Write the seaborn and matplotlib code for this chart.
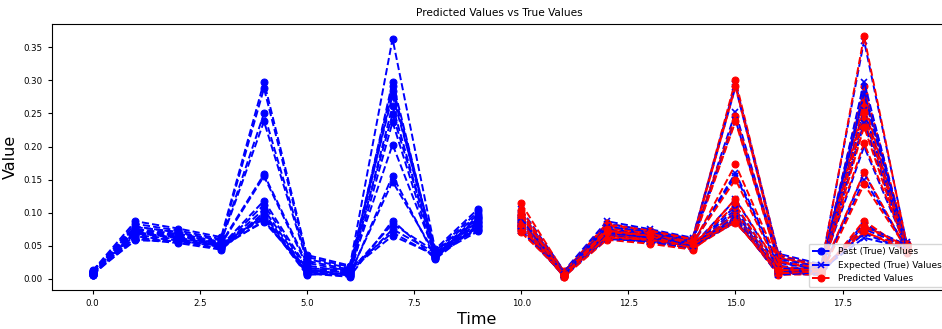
import numpy as np
import pandas as pd
import matplotlib
matplotlib.use("Agg")
import matplotlib.pyplot as plt
import seaborn as sb

# time axis
past_steps = list(range(0, 10))
future_steps = list(range(10, 20))

# rows = time step, columns = sample
past_values = [
    [0.012, 0.010, 0.008, 0.011, 0.006, 0.005, 0.009, 0.013, 0.007, 0.010, 0.006, 0.008, 0.012, 0.005, 0.009, 0.011],
    [0.087, 0.083, 0.079, 0.075, 0.072, 0.070, 0.068, 0.066, 0.064, 0.062, 0.060, 0.058, 0.071, 0.069, 0.074, 0.078],
    [0.076, 0.073, 0.070, 0.068, 0.066, 0.064, 0.062, 0.060, 0.058, 0.056, 0.054, 0.057, 0.061, 0.063, 0.067, 0.071],
    [0.063, 0.060, 0.058, 0.056, 0.054, 0.052, 0.050, 0.049, 0.048, 0.046, 0.044, 0.051, 0.053, 0.055, 0.047, 0.050],
    [0.298, 0.288, 0.250, 0.238, 0.158, 0.155, 0.118, 0.112, 0.105, 0.100, 0.097, 0.095, 0.092, 0.090, 0.088, 0.086],
    [0.036, 0.033, 0.030, 0.027, 0.024, 0.020, 0.017, 0.014, 0.011, 0.009, 0.008, 0.007, 0.006, 0.010, 0.012, 0.015],
    [0.020, 0.018, 0.016, 0.014, 0.012, 0.010, 0.008, 0.006, 0.005, 0.004, 0.003, 0.007, 0.009, 0.011, 0.013, 0.015],
    [0.277, 0.363, 0.291, 0.249, 0.203, 0.298, 0.284, 0.261, 0.156, 0.237, 0.088, 0.147, 0.075, 0.083, 0.065, 0.070],
    [0.045, 0.042, 0.040, 0.038, 0.036, 0.035, 0.034, 0.033, 0.032, 0.031, 0.030, 0.037, 0.039, 0.041, 0.036, 0.034],
    [0.106, 0.102, 0.098, 0.095, 0.092, 0.090, 0.088, 0.086, 0.084, 0.082, 0.080, 0.078, 0.076, 0.074, 0.072, 0.093],
]

expected_values = [
    [0.105, 0.100, 0.097, 0.094, 0.091, 0.089, 0.087, 0.085, 0.083, 0.081, 0.079, 0.077, 0.075, 0.073, 0.072, 0.092],
    [0.012, 0.010, 0.008, 0.011, 0.006, 0.004, 0.009, 0.010, 0.007, 0.005, 0.003, 0.008, 0.011, 0.005, 0.009, 0.006],
    [0.087, 0.083, 0.079, 0.076, 0.073, 0.070, 0.068, 0.066, 0.064, 0.062, 0.061, 0.060, 0.072, 0.069, 0.075, 0.078],
    [0.075, 0.073, 0.070, 0.068, 0.066, 0.064, 0.062, 0.060, 0.058, 0.056, 0.055, 0.057, 0.061, 0.063, 0.067, 0.071],
    [0.062, 0.060, 0.058, 0.056, 0.054, 0.052, 0.050, 0.049, 0.048, 0.046, 0.045, 0.051, 0.053, 0.055, 0.047, 0.050],
    [0.295, 0.290, 0.252, 0.240, 0.160, 0.156, 0.120, 0.110, 0.105, 0.100, 0.095, 0.092, 0.090, 0.088, 0.087, 0.085],
    [0.038, 0.034, 0.030, 0.027, 0.024, 0.020, 0.017, 0.014, 0.011, 0.009, 0.008, 0.007, 0.006, 0.010, 0.012, 0.015],
    [0.022, 0.020, 0.018, 0.016, 0.014, 0.012, 0.010, 0.009, 0.008, 0.007, 0.006, 0.008, 0.010, 0.012, 0.014, 0.016],
    [0.275, 0.360, 0.285, 0.245, 0.200, 0.298, 0.280, 0.255, 0.160, 0.235, 0.085, 0.150, 0.075, 0.080, 0.062, 0.068],
    [0.055, 0.052, 0.050, 0.048, 0.046, 0.045, 0.044, 0.043, 0.042, 0.041, 0.040, 0.047, 0.049, 0.051, 0.046, 0.044],
]

predicted_values = [
    [0.114, 0.104, 0.099, 0.092, 0.095, 0.086, 0.090, 0.082, 0.085, 0.078, 0.082, 0.074, 0.078, 0.076, 0.070, 0.096],
    [0.010, 0.008, 0.006, 0.012, 0.004, 0.002, 0.007, 0.011, 0.005, 0.004, 0.003, 0.006, 0.009, 0.004, 0.008, 0.005],
    [0.084, 0.080, 0.082, 0.073, 0.070, 0.072, 0.066, 0.068, 0.062, 0.064, 0.059, 0.062, 0.070, 0.071, 0.073, 0.076],
    [0.072, 0.070, 0.073, 0.066, 0.064, 0.066, 0.060, 0.062, 0.056, 0.058, 0.053, 0.059, 0.059, 0.065, 0.065, 0.069],
    [0.060, 0.058, 0.060, 0.054, 0.052, 0.054, 0.048, 0.051, 0.046, 0.048, 0.044, 0.053, 0.051, 0.057, 0.046, 0.052],
    [0.300, 0.291, 0.246, 0.238, 0.173, 0.150, 0.121, 0.112, 0.101, 0.097, 0.093, 0.090, 0.088, 0.087, 0.086, 0.085],
    [0.036, 0.032, 0.032, 0.025, 0.026, 0.018, 0.019, 0.012, 0.013, 0.008, 0.010, 0.006, 0.008, 0.009, 0.014, 0.013],
    [0.020, 0.018, 0.020, 0.014, 0.016, 0.010, 0.012, 0.008, 0.010, 0.006, 0.008, 0.007, 0.012, 0.011, 0.016, 0.014],
    [0.279, 0.367, 0.292, 0.241, 0.205, 0.267, 0.260, 0.252, 0.161, 0.230, 0.088, 0.143, 0.078, 0.080, 0.070, 0.072],
    [0.052, 0.050, 0.053, 0.045, 0.048, 0.043, 0.046, 0.041, 0.044, 0.039, 0.042, 0.045, 0.051, 0.049, 0.048, 0.042],
]

past = np.array(past_values).T
expected = np.array(expected_values).T
predicted = np.array(predicted_values).T

fig, ax = plt.subplots(figsize=(9.42, 3.29), dpi=100)
# axes runs a little past the right edge, like the cropped original
fig.subplots_adjust(left=0.055, right=1.006, top=0.927, bottom=0.12)

#one past / expected / predicted set per sample
for i in range(past.shape[0]):
    sb.lineplot(x=past_steps, y=past[i], ax=ax, color='blue', linestyle='--',
                marker='o', markersize=5, markeredgecolor='blue', linewidth=1.4,
                label='Past (True) Values' if i == 0 else None, legend=False)
    sb.lineplot(x=future_steps, y=expected[i], ax=ax, color='blue', linestyle='--',
                marker='x', markersize=5, markeredgecolor='blue', markeredgewidth=1.2, linewidth=1.4,
                label='Expected (True) Values' if i == 0 else None, legend=False)
    sb.lineplot(x=future_steps, y=predicted[i], ax=ax, color='red', linestyle='--',
                marker='o', markersize=5, markeredgecolor='red', linewidth=1.4,
                label='Predicted Values' if i == 0 else None, legend=False)

ax.set_title("Predicted Values vs True Values", fontsize=7.6)
ax.set_xlabel("Time", fontsize=11.5, labelpad=3)
ax.xaxis.set_label_coords(0.474, -0.085)
ax.set_ylabel("Value", fontsize=11.5, labelpad=4)
ax.tick_params(labelsize=6.2, length=3)
ax.legend(loc='lower right', fontsize=6.5, borderaxespad=0.3)

plt.savefig('out.png', dpi=100)
